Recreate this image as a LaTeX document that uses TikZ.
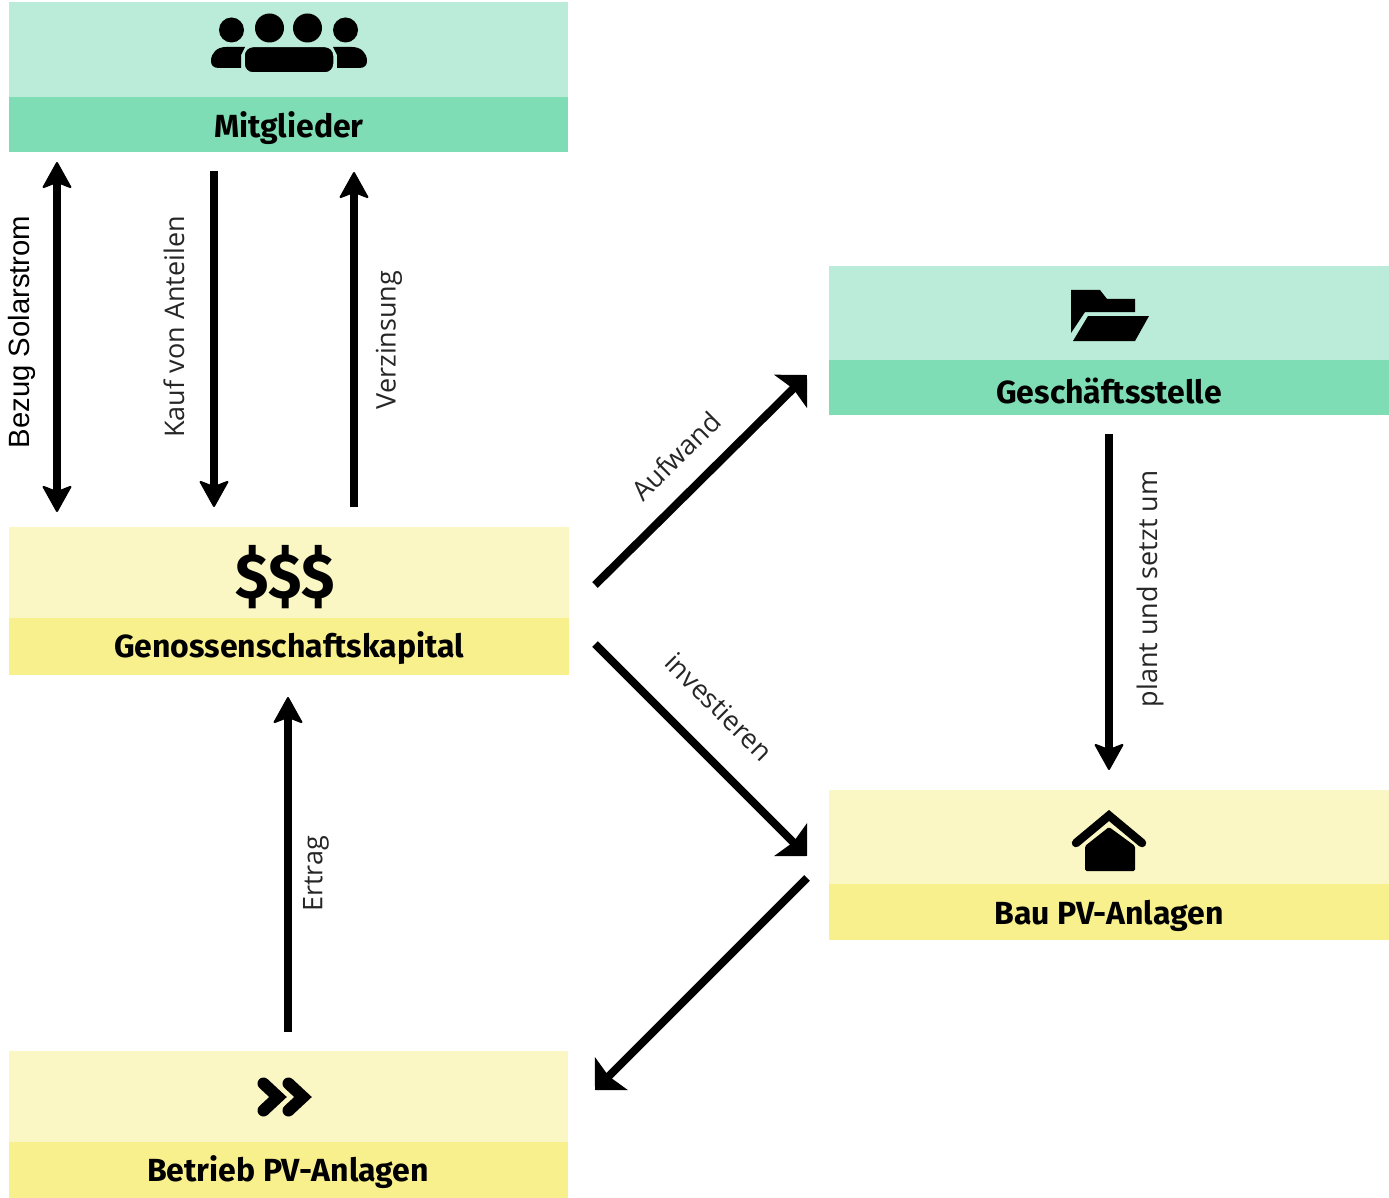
\documentclass[tikz,border=0pt]{standalone}
\usepackage{fontspec}
\setmainfont{Open Sans}
\newfontfamily\helv{Liberation Sans}
\newfontfamily\heavyf{Fira Sans}[UprightFont=* Bold]
\usetikzlibrary{arrows.meta}
\definecolor{gl}{HTML}{BBECD9}
\definecolor{gd}{HTML}{7FDDB5}
\definecolor{yl}{HTML}{FAF7C4}
\definecolor{yd}{HTML}{F8EF8D}
\tikzset{
  headtip/.tip={Stealth[length=28pt,width=31pt,inset=6pt,line width=2pt,round]},
  diagtip/.tip={Stealth[length=23pt,width=46pt,inset=3.5pt]},
  flow/.style={line width=8pt,-{headtip}},
  flowdiag/.style={line width=8pt,-{diagtip}},
  flowboth/.style={line width=8pt,{headtip}-{headtip}},
  title/.style={font=\heavyf\fontsize{32}{32}\selectfont,text=black,inner sep=0pt},
  lab/.style={font=\fontsize{27}{27}\selectfont,text=black!85,inner sep=0pt,rotate=90},
  box/.style={inner sep=0pt,outer sep=0pt,anchor=north west}
}
\begin{document}
\begin{tikzpicture}[x=1pt,y=-1pt]
\useasboundingbox (0,0) rectangle (1389,1198);
\fill[white] (0,0) rectangle (1389,1198);
% boxes
\node[box,fill=gl,minimum width=559pt,minimum height=95pt] (mT) at (9,2) {};
\node[box,fill=gd,minimum width=559pt,minimum height=55pt] (mB) at (9,97) {};
\node[box,fill=yl,minimum width=560pt,minimum height=91pt] (kT) at (9,527) {};
\node[box,fill=yd,minimum width=560pt,minimum height=57pt] (kB) at (9,618) {};
\node[box,fill=yl,minimum width=559pt,minimum height=91pt] (bT) at (9,1051) {};
\node[box,fill=yd,minimum width=559pt,minimum height=56pt] (bB) at (9,1142) {};
\node[box,fill=gl,minimum width=560pt,minimum height=94pt] (gT) at (829,266) {};
\node[box,fill=gd,minimum width=560pt,minimum height=55pt] (gB) at (829,360) {};
\node[box,fill=yl,minimum width=560pt,minimum height=94pt] (pT) at (829,790) {};
\node[box,fill=yd,minimum width=560pt,minimum height=56pt] (pB) at (829,884) {};
% titles
\node[title] (t1) at (289,128) {Mitglieder};
\node[title] (t2) at (289,648) {Genossenschaftskapital};
\node[title] (t3) at (288,1172) {Betrieb PV-Anlagen};
\node[title] (t4) at (1109,390.5) {Geschäftsstelle};
\node[title] (t5) at (1109,916) {Bau PV-Anlagen};
% people icon
\fill (231.5,30) circle (12.5);
\fill (269.5,28) circle (14.5);
\fill (307.5,28) circle (14.5);
\fill (345.5,30) circle (12.5);
\fill (241,68) -- (219,68) .. controls (213,68) and (211,65) .. (211,61) .. controls (211,53) and (217,47) .. (226,47) -- (245,47) -- (241,55) -- cycle;
\fill (337,68) -- (359,68) .. controls (365,68) and (367,65) .. (367,61) .. controls (367,53) and (361,47) .. (352,47) -- (333,47) -- (337,55) -- cycle;
\fill[draw=gl,line width=1.5pt,rounded corners=9pt] (244,73) -- (334,73) -- (334,46.5) -- (244,46.5) -- cycle;
% folder icon
\fill (1071,290) -- (1100,290) -- (1107,299) -- (1135,299) -- (1135,312) -- (1085,312) -- (1071,333) -- cycle;
\fill (1088,316) -- (1149,316) -- (1135,341) -- (1073,341) -- cycle;
% house icon
\draw[line width=8.5pt,line cap=round,line join=miter] (1076,843) -- (1109,815.5) -- (1142,843);
\fill[rounded corners=1.5pt] (1085,871) -- (1085,846) -- (1109,827) -- (1135,846) -- (1135,871) -- cycle;
% chevrons
\draw[line width=12pt,line cap=round,line join=miter] (263.5,1083.5) -- (278,1097) -- (263.5,1110.5);
\draw[line width=12pt,line cap=round,line join=miter] (288.5,1083.5) -- (303,1097) -- (288.5,1110.5);
% dollars
\node[inner sep=0pt,font=\heavyf\fontsize{64}{64}\selectfont,xscale=.95,transform shape] (dollar) at (285,577) {\$\$\$};
% anchor coordinates
\coordinate (a1s) at (57,162); \coordinate (a1e) at (57,512);
\coordinate (a2s) at (214,171); \coordinate (a2e) at (214,507);
\coordinate (a3s) at (354,507); \coordinate (a3e) at (354,172);
\coordinate (a4s) at (288,1032); \coordinate (a4e) at (288,697);
\coordinate (a5s) at (595,585); \coordinate (a5e) at (807,375);
\coordinate (a6s) at (595,644); \coordinate (a6e) at (807,856);
\coordinate (a7s) at (807,878); \coordinate (a7e) at (595,1090);
\coordinate (a8s) at (1109,434); \coordinate (a8e) at (1109,770);
\draw[flowboth] (a1s) -- (a1e);
\draw[flow] (a2s) -- (a2e);
\draw[flow] (a3s) -- (a3e);
\draw[flow] (a4s) -- (a4e);
\draw[flowdiag] (a5s) -- (a5e);
\draw[flowdiag] (a6s) -- (a6e);
\draw[flowdiag] (a7s) -- (a7e);
\draw[flow] (a8s) -- (a8e);
% labels
\node[lab,font=\helv\fontsize{29.3}{29.3}\selectfont,text=black] (l1) at (22,332) {Bezug Solarstrom};
\node[lab] (l2) at (174,327) {Kauf von Anteilen};
\node[lab] (l3) at (389,340) {Verzinsung};
\node[lab] (l4) at (316,874) {Ertrag};
\node[lab] (l5) at (1150,589) {plant und setzt um};
\node[lab,rotate=-45] (l6) at (676,456) {Aufwand};
\node[lab,rotate=-135] (l7) at (719,707) {investieren};
\end{tikzpicture}
\end{document}
